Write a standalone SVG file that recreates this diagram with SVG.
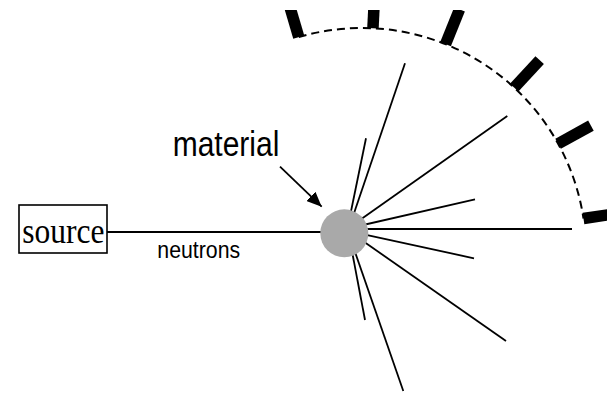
<svg xmlns="http://www.w3.org/2000/svg" width="607" height="394" viewBox="0 0 607 394">
  <style>
    .ray { stroke: #000; stroke-width: 1.8; fill: none; }
    .det { fill: #000; }
    .sans { font-family: "Liberation Sans", Arial, sans-serif; fill: #000; }
    .serif { font-family: "Liberation Serif", "Times New Roman", serif; fill: #000; }
  </style>
  <defs>
    <marker id="head" viewBox="0 0 15 13" refX="15" refY="6.5" markerWidth="15" markerHeight="13" markerUnits="userSpaceOnUse" orient="auto">
      <path d="M0,0 L15,6.5 L0,13 z" fill="#000"/>
    </marker>
    <clipPath id="clipTop">
      <rect x="0" y="10" width="607" height="384"/>
    </clipPath>
  </defs>
  <rect width="607" height="394" fill="#fff"/>

  <g id="connectors">
    <line class="ray" x1="107" y1="232" x2="330" y2="232" stroke-width="1.6"/>
    <line class="ray" x1="280" y1="166.7" x2="321.7" y2="206.7" marker-end="url(#head)"/>
    <line class="ray" x1="350" y1="225" x2="405" y2="63.3"/>
    <line class="ray" x1="348.2" y1="225" x2="366" y2="138.3"/>
    <line class="ray" x1="350" y1="227" x2="507.3" y2="116"/>
    <line class="ray" x1="350" y1="228" x2="475" y2="199.3"/>
    <line class="ray" x1="350" y1="229" x2="572" y2="229"/>
    <line class="ray" x1="350" y1="231.3" x2="474" y2="258.3"/>
    <line class="ray" x1="350" y1="232" x2="506" y2="341"/>
    <line class="ray" x1="348.9" y1="235" x2="365" y2="320"/>
    <line class="ray" x1="349.1" y1="235" x2="403.3" y2="391"/>
  </g>

  <g id="source">
    <rect x="19" y="205" width="88" height="48" fill="#fff" stroke="#000" stroke-width="1.6"/>
    <text class="serif" font-size="31.5" transform="translate(22.3,242.7) scale(1,1.15)">source</text>
  </g>

  <g id="neutrons-label">
    <text class="sans" font-size="21.3" transform="translate(157.3,258.3) scale(1,1.15)">neutrons</text>
  </g>

  <g id="material">
    <circle cx="344.3" cy="233.3" r="24" fill="#a9a9a9"/>
    <text class="sans" font-size="30" transform="translate(172.7,156) scale(1,1.14)">material</text>
  </g>

  <g id="detectors" clip-path="url(#clipTop)">
    <path d="M298.8,37.1 A224,224 0 0 1 583.5,218.5" fill="none" stroke="#000" stroke-width="2" stroke-dasharray="8 5"/>
    <g transform="translate(362,252)">
      <rect class="det" x="224" y="-5.75" width="37.5" height="11.5" transform="rotate(-106.4)"/>
      <rect class="det" x="224" y="-5.75" width="37.5" height="11.5" transform="rotate(-87.2)"/>
      <rect class="det" x="224" y="-5.75" width="37.5" height="11.5" transform="rotate(-68.1)"/>
      <rect class="det" x="224" y="-5.75" width="37.5" height="11.5" transform="rotate(-47.2)"/>
      <rect class="det" x="224" y="-5.75" width="37.5" height="11.5" transform="rotate(-28.9)"/>
      <rect class="det" x="224" y="-5.75" width="37.5" height="11.5" transform="rotate(-8.6)"/>
    </g>
  </g>
</svg>
